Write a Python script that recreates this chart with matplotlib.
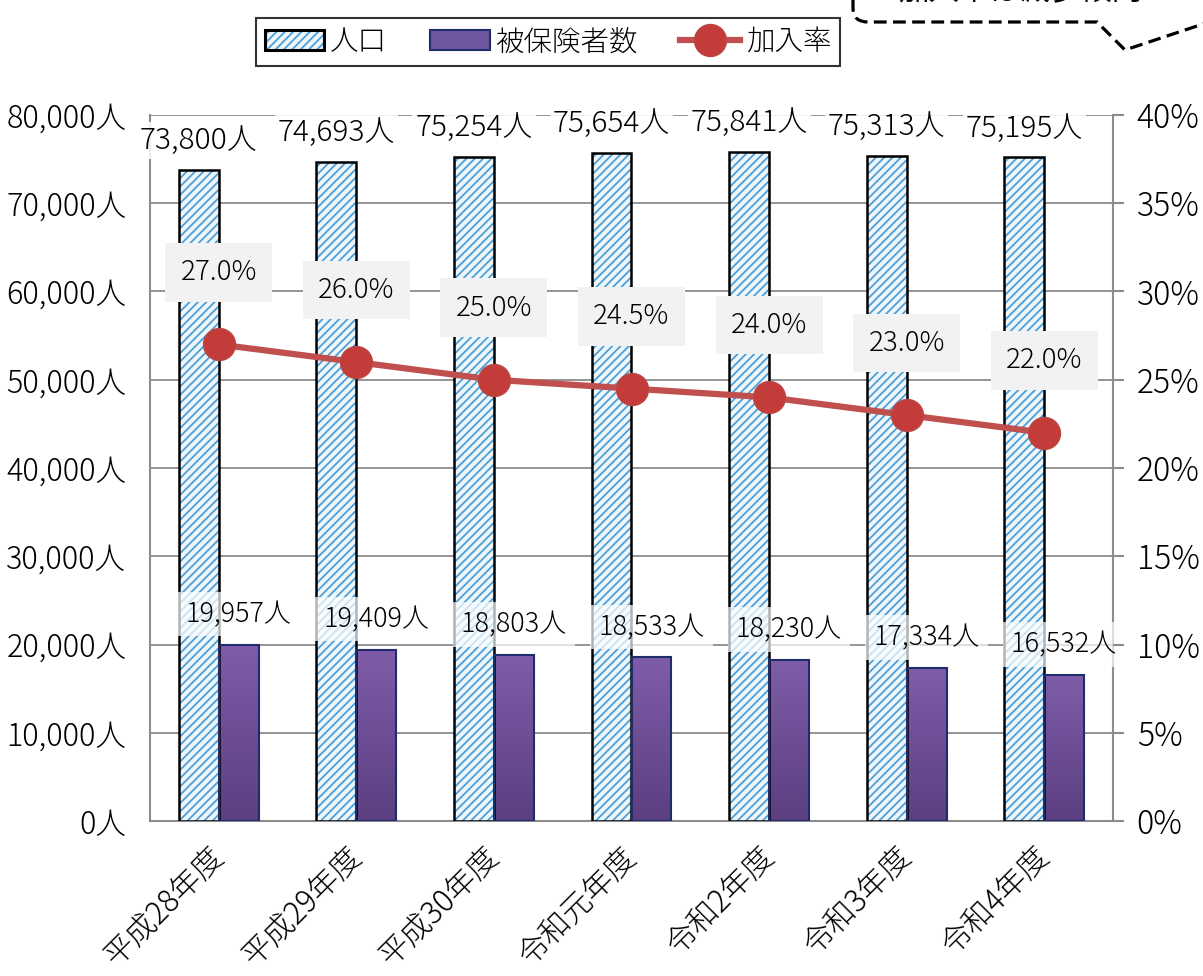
import matplotlib
matplotlib.use("Agg")
import matplotlib.pyplot as plt
import numpy as np
from matplotlib.patches import Patch, PathPatch
from matplotlib.lines import Line2D
from matplotlib.path import Path
from matplotlib.colors import LinearSegmentedColormap
from matplotlib.legend_handler import HandlerTuple

plt.rcParams['font.family'] = ['Noto Sans CJK JP', 'DejaVu Sans']
plt.rcParams['font.weight'] = 'light'
plt.rcParams['hatch.linewidth'] = 1.3

categories = ['平成28年度', '平成29年度', '平成30年度', '令和元年度', '令和2年度', '令和3年度', '令和4年度']
population = [73800, 74693, 75254, 75654, 75841, 75313, 75195]
insured = [19957, 19409, 18803, 18533, 18230, 17334, 16532]
rate = [27.0, 26.0, 25.0, 24.5, 24.0, 23.0, 22.0]
left_ticks = [0, 10000, 20000, 30000, 40000, 50000, 60000, 70000, 80000]
right_ticks = [0, 5, 10, 15, 20, 25, 30, 35, 40]

W, H = 1203, 976
fig = plt.figure(figsize=(W / 100, H / 100), dpi=100)
ax = fig.add_axes([150 / W, 1 - 821 / H, (1113 - 150) / W, (821 - 115) / H])
ax2 = ax.twinx()

x = np.arange(len(categories))
bw = 0.29
grid_c = '#8c8c8c'
hatch_fc, hatch_ec = '#eef7fc', '#4f9fd6'

# 人口 bars (hatched)
ax.bar(x - bw / 2, population, bw, facecolor=hatch_fc, edgecolor=hatch_ec, hatch='////', linewidth=0, zorder=3)
ax.bar(x - bw / 2, population, bw, facecolor='none', edgecolor='black', linewidth=1.8, zorder=4)

# 被保険者数 bars with gradient
bars = ax.bar(x + bw / 2, insured, bw, facecolor='none', edgecolor='#1f2d6b', linewidth=1.5, zorder=4)
grad = np.linspace(0, 1, 256).reshape(-1, 1)
cmap = LinearSegmentedColormap.from_list('pg', ['#5b3f80', '#7f5ca9'])
for b in bars:
    x0, y0 = b.get_x(), b.get_y()
    im = ax.imshow(grad, extent=[x0, x0 + b.get_width(), y0, y0 + b.get_height()],
                   origin='lower', cmap=cmap, aspect='auto', zorder=3)
    im.set_clip_path(b)

ax.set_xlim(-0.5, len(categories) - 0.5)
ax.set_ylim(0, 80000)
ax.set_yticks(left_ticks)
ax.set_yticklabels([f'{v:,}人' for v in left_ticks], fontsize=22)
ax.yaxis.grid(True, color=grid_c, linewidth=1.3, zorder=0)
ax.set_axisbelow(True)
ax.tick_params(axis='y', length=0, pad=17)
ax.set_xticks(x)
ax.set_xticklabels(categories, fontsize=22, rotation=45, ha='right', va='center', rotation_mode='anchor')
ax.tick_params(axis='x', length=0, pad=22)
for s in ['left', 'right', 'bottom']:
    ax.spines[s].set_color(grid_c)
    ax.spines[s].set_linewidth(1.5)
ax.spines['top'].set_visible(False)

# labels
for i in range(len(categories)):
    ax.annotate(f'{population[i]:,}人', (x[i] - bw / 2, population[i]), xytext=(0, 21),
                textcoords='offset points', ha='center', va='center', fontsize=21.5, zorder=6,
                bbox=dict(boxstyle='square,pad=0.1', facecolor='white', edgecolor='none', alpha=0.85))
    ax.annotate(f'{insured[i]:,}人', (x[i] + bw / 2, insured[i]), xytext=(0, 22),
                textcoords='offset points', ha='center', va='center', fontsize=19.5, zorder=6,
                bbox=dict(boxstyle='square,pad=0.3', facecolor='white', edgecolor='none', alpha=0.7))

# rate line
ax2.plot(x, rate, color='#c0504d', linewidth=4.5, marker='o', markersize=23,
         markerfacecolor='#c43c3a', markeredgecolor='#b84744', markeredgewidth=1, zorder=5)
ax2.set_ylim(0, 40)
ax2.set_yticks(right_ticks)
ax2.set_yticklabels([f'{v}%' for v in right_ticks], fontsize=23)
ax2.tick_params(axis='y', length=8, width=1.5, color=grid_c, pad=9)
for s in ax2.spines.values():
    s.set_visible(False)
for i in range(len(categories)):
    ax2.annotate(f'{rate[i]:.1f}%', (x[i], rate[i]), xytext=(0, 52), textcoords='offset points',
                 ha='center', va='center', fontsize=20, zorder=7,
                 bbox=dict(boxstyle='square,pad=0.55', facecolor='#f2f2f2', edgecolor='none'))

# legend
h_pop = (Patch(facecolor=hatch_fc, edgecolor=hatch_ec, hatch='////', linewidth=0),
         Patch(facecolor='none', edgecolor='black', linewidth=2.2))
h_ins = Patch(facecolor='#7058a0', edgecolor='#1f2d6b', linewidth=1.5)
h_rate = Line2D([0], [0], color='#c0504d', linewidth=4.5, marker='o', markersize=23,
                markerfacecolor='#c43c3a', markeredgecolor='#b84744')
leg = fig.legend([h_pop, h_ins, h_rate], ['人口', '被保険者数', '加入率'], loc='upper center',
                 bbox_to_anchor=(548 / W, 1 - 4 / H), ncol=3, fontsize=20.5, frameon=True,
                 fancybox=False, edgecolor='black', handlelength=2.1, handletextpad=0.2,
                 columnspacing=1.5, borderpad=0.3,
                 handler_map={tuple: HandlerTuple(ndivide=1, pad=0)})
leg.get_frame().set_linewidth(1.5)

# callout (partially visible)
def fp(px, py):
    return (px / W, 1 - py / H)
verts = [fp(853, -20), fp(853, 8), fp(853, 22), fp(868, 22), fp(1097, 22), fp(1125, 50), fp(1215, 20)]
codes = [Path.MOVETO, Path.LINETO, Path.CURVE3, Path.CURVE3, Path.LINETO, Path.LINETO, Path.LINETO]
fig.patches.append(PathPatch(Path(verts, codes), transform=fig.transFigure, facecolor='none',
                             edgecolor='black', linewidth=2.3, linestyle=(0, (4, 2))))
fig.text(1020 / W, 1 - (-8) / H, '加入率は減少傾向', ha='center', va='center', fontsize=22,
         fontweight='normal')

fig.savefig('out.png', dpi=100)
